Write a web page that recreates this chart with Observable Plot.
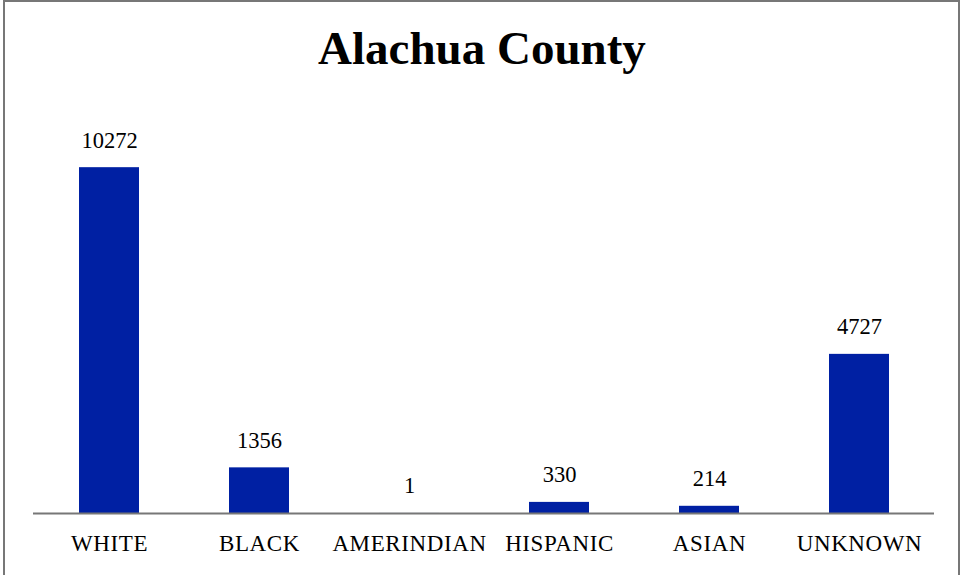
<!DOCTYPE html>
<html>
<head>
<meta charset="utf-8">
<script src="https://cdn.jsdelivr.net/npm/d3@7"></script>
<script src="https://cdn.jsdelivr.net/npm/@observablehq/plot@0.6"></script>
<style>
  html, body { margin: 0; padding: 0; background: #fff; overflow: hidden; }
  #wrap { position: relative; width: 964px; height: 575px; }
  #frame { position: absolute; left: 3px; top: 0; width: 957px; height: 600px; border: 2px solid #777; box-sizing: border-box; pointer-events: none; }
  #title { height: 95px; box-sizing: border-box; padding-top: 21px; line-height: 47px; font: bold 47px "Liberation Serif", serif; text-align: center; color: #000; }
  #chart svg { display: block; }
  #chart svg g[aria-label="x-axis tick label"] text { letter-spacing: 0.6px; }
</style>
</head>
<body>
<div id="wrap">
  <div id="title">Alachua County</div>
  <div id="chart"></div>
  <div id="frame"></div>
</div>
<script>
const categories = ["WHITE", "BLACK", "AMERINDIAN", "HISPANIC", "ASIAN", "UNKNOWN"];
const counts = [10272, 1356, 1, 330, 214, 4727];

const data = categories.map((c, i) => ({category: c, count: counts[i]}));

const chart = Plot.plot({
  width: 964,
  height: 480,
  marginLeft: 33,
  marginRight: 30,
  marginTop: 14,
  marginBottom: 62,
  style: {fontFamily: "'Liberation Serif', serif", color: "#000", background: "#fff"},
  x: {domain: categories, paddingInner: 0.6, paddingOuter: 0.3, label: null},
  y: {domain: [0, 12000], axis: null},
  marks: [
    Plot.barY(data, {x: "category", y: "count", fill: "#0020a3"}),
    Plot.ruleY([0], {stroke: "#777", strokeWidth: 2}),
    Plot.text(data, {x: "category", y: "count", text: d => String(d.count), lineAnchor: "bottom", dy: -20, fontSize: 22.5, fill: "#000"}),
    Plot.axisX({tickSize: 0, tickPadding: 21, fontSize: 23, label: null})
  ]
});
document.getElementById("chart").appendChild(chart);
</script>
</body>
</html>
